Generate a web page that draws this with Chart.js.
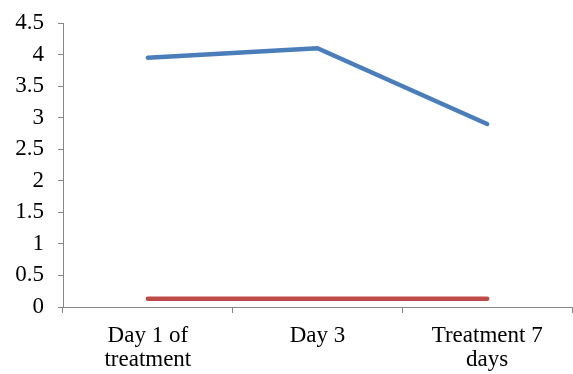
<!DOCTYPE html>
<html>
<head>
<meta charset="utf-8">
<script src="https://cdn.jsdelivr.net/npm/chart.js@4.4.1/dist/chart.umd.min.js"></script>
<style>
  html, body { margin: 0; padding: 0; background: #ffffff; }
  canvas { display: block; }
</style>
</head>
<body>
<canvas id="c" width="573" height="374"></canvas>
<script>
const categories = [["Day 1 of", "treatment"], "Day 3", ["Treatment 7", "days"]];
const seriesBlue = [3.95, 4.1, 2.9];
const seriesRed = [0.13, 0.13, 0.13];
const yMin = 0, yMax = 4.5, yStep = 0.5;

const axisColor = '#868686';
const fontSpec = { family: '"Liberation Serif", "Times New Roman", serif', size: 23, lineHeight: 1.05 };

new Chart(document.getElementById('c'), {
  type: 'line',
  data: {
    labels: categories,
    datasets: [
      { label: 'Series 1', data: seriesBlue, borderColor: '#4A7EBB', backgroundColor: '#4A7EBB',
        borderWidth: 4.5, pointRadius: 0, tension: 0, borderCapStyle: 'round', borderJoinStyle: 'round', fill: false },
      { label: 'Series 2', data: seriesRed, borderColor: '#BE4B48', backgroundColor: '#BE4B48',
        borderWidth: 4.5, pointRadius: 0, tension: 0, borderCapStyle: 'round', borderJoinStyle: 'round', fill: false }
    ]
  },
  options: {
    responsive: false,
    animation: false,
    layout: { padding: { top: 23, right: 1, left: 0, bottom: 0 } },
    plugins: { legend: { display: false }, tooltip: { enabled: false } },
    scales: {
      x: {
        offset: true,
        grid: { offset: true, drawOnChartArea: false, drawTicks: true, tickLength: 6, color: axisColor, lineWidth: 1 },
        border: { display: true, color: axisColor, width: 1 },
        ticks: { color: '#000000', font: fontSpec, padding: 11, maxRotation: 0, autoSkip: false },
        afterFit: function (s) { s.height = 67; s.paddingLeft = 0; s.paddingRight = 0; }
      },
      y: {
        min: yMin, max: yMax,
        grid: { drawOnChartArea: false, drawTicks: true, tickLength: 5, color: axisColor, lineWidth: 1 },
        border: { display: true, color: axisColor, width: 1 },
        ticks: { stepSize: yStep, color: '#000000', font: fontSpec, padding: 14,
                 callback: function (v) { return String(Math.round(v * 10) / 10); } },
        afterFit: function (s) { s.width = 63; s.paddingTop = 0; s.paddingBottom = 0; }
      }
    }
  }
});
</script>
</body>
</html>
